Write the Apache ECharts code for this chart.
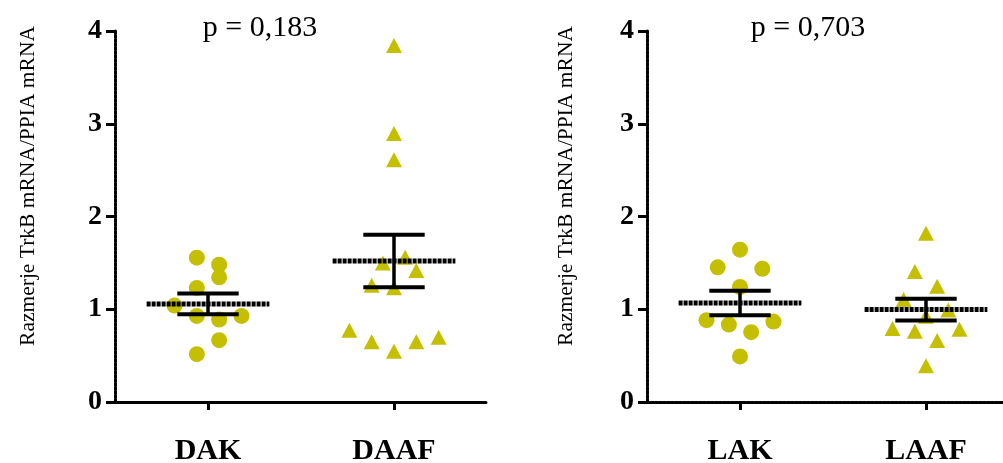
<!DOCTYPE html>
<html>
<head>
<meta charset="utf-8">
<script src="https://cdn.jsdelivr.net/npm/echarts@6/dist/echarts.min.js"></script>
<style>
  html, body { margin: 0; padding: 0; background: #fff; }
  #chart { width: 1003px; height: 463px; }
</style>
</head>
<body>
<div id="chart"></div>
<script>
// categories
const catsLeft = ['DAK', 'DAAF']
const catsRight = ['LAK', 'LAAF']
const pLeft = 'p = 0,183'
const pRight = 'p = 0,703'
const yTicks = [0, 1, 2, 3, 4]

// points: horizontal jitter (in category units) and value
const dakJitter = [-0.06, 0.06, 0.06, -0.06, -0.18, -0.06, 0.06, 0.18, 0.06, -0.06]
const dakValues = [1.556, 1.481, 1.344, 1.229, 1.040, 0.928, 0.889, 0.928, 0.667, 0.516]
const daafJitter = [0, 0, 0, 0.06, -0.06, 0.12, -0.12, 0, -0.24, -0.12, 0, 0.12, 0.24]
const daafValues = [3.845, 2.894, 2.611, 1.561, 1.500, 1.419, 1.258, 1.233, 0.774, 0.649, 0.548, 0.649, 0.697]
const lakJitter = [0, -0.12, 0.12, 0, -0.18, -0.06, 0.06, 0.18, 0]
const lakValues = [1.642, 1.452, 1.437, 1.240, 0.882, 0.835, 0.753, 0.867, 0.491]
const laafJitter = [0, -0.06, 0.06, -0.12, 0.12, 0, -0.18, -0.06, 0.18, 0.06, 0]
const laafValues = [1.819, 1.407, 1.249, 1.106, 0.991, 0.925, 0.792, 0.762, 0.785, 0.663, 0.392]

// mean +/- SEM per group
const meansLeft = [1.057, 1.519]
const semLeft = [0.112, 0.283]
const meansRight = [1.068, 0.997]
const semRight = [0.132, 0.117]

const olive = '#c4bf00'
const serif = "'Liberation Serif', 'Times New Roman', serif"

function pts(idx, jitter, values) {
  return values.map((v, i) => [idx + jitter[i], v])
}

function errRender(params, api) {
  const x = api.value(0)
  const m = api.value(1)
  const s = api.value(2)
  const ml = api.coord([x - 0.33, m])
  const mr = api.coord([x + 0.33, m])
  const top = api.coord([x, m + s])
  const bot = api.coord([x, m - s])
  const capTl = api.coord([x - 0.165, m + s])
  const capTr = api.coord([x + 0.165, m + s])
  const capBl = api.coord([x - 0.165, m - s])
  const capBr = api.coord([x + 0.165, m - s])
  return {
    type: 'group',
    children: [
      { type: 'line', shape: { x1: top[0], y1: top[1], x2: bot[0], y2: bot[1] }, style: { stroke: '#000', lineWidth: 3.5 } },
      { type: 'line', shape: { x1: capTl[0], y1: capTl[1], x2: capTr[0], y2: capTr[1] }, style: { stroke: '#000', lineWidth: 4 } },
      { type: 'line', shape: { x1: capBl[0], y1: capBl[1], x2: capBr[0], y2: capBr[1] }, style: { stroke: '#000', lineWidth: 4 } },
      { type: 'line', shape: { x1: ml[0], y1: ml[1], x2: mr[0], y2: mr[1] }, style: { stroke: '#000', lineWidth: 5, lineDash: [4, 1] } }
    ]
  }
}

function yAxisOpt(gridIndex) {
  return {
    gridIndex: gridIndex,
    type: 'value',
    min: yTicks[0],
    max: yTicks[yTicks.length - 1],
    interval: 1,
    splitLine: { show: false },
    axisLine: { show: true, onZero: false, lineStyle: { color: '#000', width: 3, type: [3, 1] } },
    axisTick: { show: true, length: 9, lineStyle: { color: '#000', width: 3 } },
    axisLabel: { color: '#000', fontFamily: serif, fontWeight: 'bold', fontSize: 28, margin: 13 }
  }
}

function catAxisOpt(gridIndex, cats) {
  return {
    gridIndex: gridIndex,
    type: 'category',
    data: cats,
    boundaryGap: true,
    axisLine: { show: true, onZero: false, lineStyle: { color: '#000', width: 3, type: [3, 1] } },
    axisTick: { show: true, alignWithLabel: true, length: 8, lineStyle: { color: '#000', width: 3 } },
    axisLabel: { color: '#000', fontFamily: serif, fontWeight: 'bold', fontSize: 30, margin: 34 }
  }
}

function valAxisOpt(gridIndex) {
  return { gridIndex: gridIndex, type: 'value', min: -0.5, max: 1.5, show: false }
}

const option = {
  animation: false,
  backgroundColor: '#fff',
  grid: [
    { left: 115, right: 516, top: 31, bottom: 61, outerBoundsMode: 'none', containLabel: false },
    { left: 647, right: -16, top: 31, bottom: 61, outerBoundsMode: 'none', containLabel: false }
  ],
  xAxis: [catAxisOpt(0, catsLeft), catAxisOpt(1, catsRight), valAxisOpt(0), valAxisOpt(1)],
  yAxis: [yAxisOpt(0), yAxisOpt(1)],
  graphic: [
    { type: 'text', x: 28, y: 186, rotation: Math.PI / 2, style: { text: 'Razmerje TrkB mRNA/PPIA mRNA', font: '21.5px ' + serif, fill: '#000', align: 'center', verticalAlign: 'middle' } },
    { type: 'text', x: 566, y: 186, rotation: Math.PI / 2, style: { text: 'Razmerje TrkB mRNA/PPIA mRNA', font: '21.5px ' + serif, fill: '#000', align: 'center', verticalAlign: 'middle' } },
    { type: 'text', x: 260, y: 28, style: { text: pLeft, font: '30px ' + serif, fill: '#000', align: 'center', verticalAlign: 'middle' } },
    { type: 'text', x: 808, y: 28, style: { text: pRight, font: '30px ' + serif, fill: '#000', align: 'center', verticalAlign: 'middle' } }
  ],
  series: [
    { type: 'scatter', xAxisIndex: 2, yAxisIndex: 0, symbol: 'circle', symbolSize: 16, itemStyle: { color: olive, opacity: 1 }, data: pts(0, dakJitter, dakValues) },
    { type: 'scatter', xAxisIndex: 2, yAxisIndex: 0, symbol: 'triangle', symbolSize: [16, 15], itemStyle: { color: olive, opacity: 1 }, data: pts(1, daafJitter, daafValues) },
    { type: 'scatter', xAxisIndex: 3, yAxisIndex: 1, symbol: 'circle', symbolSize: 16, itemStyle: { color: olive, opacity: 1 }, data: pts(0, lakJitter, lakValues) },
    { type: 'scatter', xAxisIndex: 3, yAxisIndex: 1, symbol: 'triangle', symbolSize: [16, 15], itemStyle: { color: olive, opacity: 1 }, data: pts(1, laafJitter, laafValues) },
    { type: 'custom', xAxisIndex: 2, yAxisIndex: 0, z: 10, renderItem: errRender, data: meansLeft.map((m, i) => [i, m, semLeft[i]]) },
    { type: 'custom', xAxisIndex: 3, yAxisIndex: 1, z: 10, renderItem: errRender, data: meansRight.map((m, i) => [i, m, semRight[i]]) }
  ]
}

const myChart = echarts.init(document.getElementById('chart'))
myChart.setOption(option)
</script>
</body>
</html>
